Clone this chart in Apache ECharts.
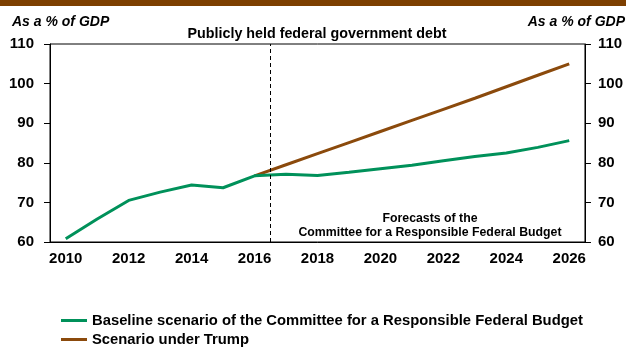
<!DOCTYPE html>
<html>
<head>
<meta charset="utf-8">
<script src="https://cdn.jsdelivr.net/npm/echarts@6/dist/echarts.min.js"></script>
<style>html,body{margin:0;padding:0;background:#fff}#c{width:626px;height:348px}</style>
</head>
<body>
<div id="c"></div>
<script>
const years = [2010,2011,2012,2013,2014,2015,2016,2017,2018,2019,2020,2021,2022,2023,2024,2025,2026];
const baseline = [60.8,65.8,70.5,72.6,74.4,73.7,76.7,77.1,76.8,77.6,78.5,79.4,80.5,81.6,82.5,83.9,85.6];
const trumpYears = [2016,2017,2018,2019,2020,2021,2022,2023,2024,2025,2026];
const trump = [76.7,79.5,82.3,85.1,87.9,90.7,93.5,96.3,99.2,102.1,105.0];
const xTickLabels = [2010,2012,2014,2016,2018,2020,2022,2024,2026];
const forecastStart = 2016.5;
const seriesNames = ['Baseline scenario of the Committee for a Responsible Federal Budget','Scenario under Trump'];

const FONT = 'Liberation Sans, Arial, sans-serif';
const chart = echarts.init(document.getElementById('c'), null, {renderer:'canvas'});
const yAxisCommon = {
  type:'value', min:60, max:110, interval:10,
  axisLine:{show:true, lineStyle:{color:'#000', width:1}},
  axisTick:{show:true, inside:false, length:6, lineStyle:{color:'#000'}},
  splitLine:{show:false},
  axisLabel:{color:'#000', fontFamily:FONT, fontWeight:'bold', fontSize:15}
};
const legendCommon = {
  orient:'horizontal', left:61, padding:0, itemWidth:26, itemHeight:3, icon:'rect',
  textStyle:{color:'#000', fontFamily:FONT, fontWeight:'bold', fontSize:14.8}
};
chart.setOption({
  animation:false,
  backgroundColor:'#fff',
  grid:{left:50, right:38, top:44, bottom:106, show:true, borderColor:'#000', borderWidth:1},
  graphic:[
    {type:'rect', shape:{x:0,y:0,width:626,height:6}, style:{fill:'#7d3f00'}},
    {type:'text', left:12, top:15, style:{text:'As a % of GDP', font:'italic bold 14px '+FONT, fill:'#000'}},
    {type:'text', right:1, top:15, style:{text:'As a % of GDP', font:'italic bold 14px '+FONT, fill:'#000'}},
    {type:'text', x:317, y:34, style:{text:'Publicly held federal government debt', font:'bold 14.3px '+FONT, fill:'#000', align:'center', verticalAlign:'middle'}},
    {type:'text', x:430, y:219, style:{text:'Forecasts of the', font:'bold 12.3px '+FONT, fill:'#000', align:'center', verticalAlign:'middle'}},
    {type:'text', x:430, y:233, style:{text:'Committee for a Responsible Federal Budget', font:'bold 12.3px '+FONT, fill:'#000', align:'center', verticalAlign:'middle'}}
  ],
  legend:[
    Object.assign({}, legendCommon, {top:313, data:[seriesNames[0]]}),
    Object.assign({}, legendCommon, {top:332, data:[seriesNames[1]]})
  ],
  xAxis:{
    type:'value', min:2009.5, max:2026.5,
    axisLine:{show:true, lineStyle:{color:'#000'}},
    axisTick:{show:false},
    splitLine:{show:false},
    axisLabel:{color:'#000', fontFamily:FONT, fontWeight:'bold', fontSize:15, margin:9, customValues:xTickLabels, formatter:v=>String(v)}
  },
  yAxis:[
    Object.assign({}, yAxisCommon, {position:'left', axisLabel:Object.assign({}, yAxisCommon.axisLabel, {margin:16})}),
    Object.assign({}, yAxisCommon, {position:'right', axisLabel:Object.assign({}, yAxisCommon.axisLabel, {margin:13})})
  ],
  series:[
    {name:seriesNames[1], type:'line', symbol:'none', z:2,
     itemStyle:{color:'#8b4a0c'}, lineStyle:{color:'#8b4a0c', width:3},
     data:trumpYears.map((y,i)=>[y,trump[i]])},
    {name:seriesNames[0], type:'line', symbol:'none', z:3,
     itemStyle:{color:'#00915a'}, lineStyle:{color:'#00915a', width:3},
     data:years.map((y,i)=>[y,baseline[i]]),
     markLine:{silent:true, symbol:'none', label:{show:false},
       lineStyle:{color:'#000', type:[4,3], width:1},
       data:[{xAxis:forecastStart}]}
    }
  ]
});
</script>
</body>
</html>
